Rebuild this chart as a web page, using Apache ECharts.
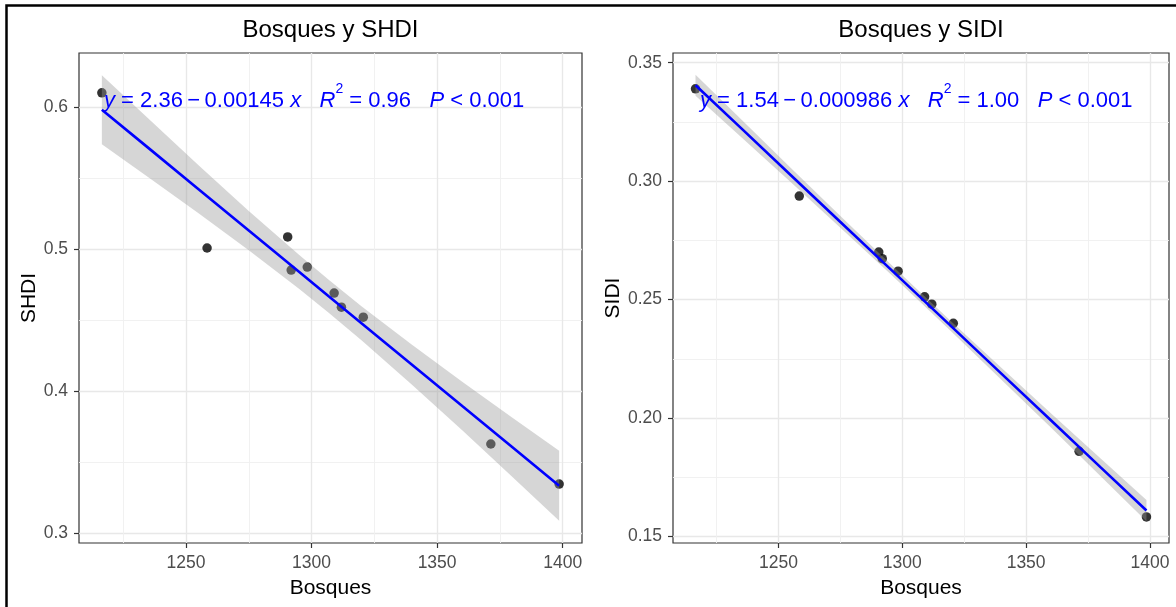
<!DOCTYPE html>
<html>
<head>
<meta charset="utf-8">
<script src="https://cdn.jsdelivr.net/npm/echarts@6/dist/echarts.min.js"></script>
<style>
  html, body { margin: 0; padding: 0; background: #fff; }
  #chart { width: 1176px; height: 607px; }
</style>
</head>
<body>
<div id="chart"></div>
<script>
// valores
const bosques = [1216.5, 1258.4, 1290.5, 1291.9, 1298.3, 1309.0, 1311.9, 1320.6, 1371.4, 1398.6];
const shdi = [0.610, 0.5007, 0.5085, 0.4852, 0.4873, 0.469, 0.459, 0.452, 0.3627, 0.3345];
const sidi = [0.339, 0.2937, 0.2701, 0.2673, 0.262, 0.2512, 0.2481, 0.240, 0.186, 0.1583];

// recta ajustada y banda de confianza
const fitX = [1216.5, 1235, 1255, 1275, 1295, 1306.7, 1320, 1340, 1360, 1380, 1398.6];
const shdiFit = [0.5981, 0.5712, 0.5421, 0.5130, 0.4840, 0.4669, 0.4476, 0.4185, 0.3894, 0.3604, 0.3333];
const shdiLo = [0.5738, 0.5506, 0.5252, 0.4992, 0.4720, 0.4553, 0.4356, 0.4045, 0.3723, 0.3395, 0.3087];
const shdiHi = [0.6224, 0.5918, 0.5590, 0.5268, 0.4959, 0.4785, 0.4596, 0.4325, 0.4066, 0.3812, 0.3579];
const sidiFit = [0.3405, 0.3223, 0.3025, 0.2828, 0.2631, 0.2516, 0.2385, 0.2188, 0.1991, 0.1793, 0.1610];
const sidiLo = [0.3361, 0.3185, 0.2995, 0.2803, 0.2610, 0.2495, 0.2363, 0.2162, 0.1960, 0.1756, 0.1565];
const sidiHi = [0.3449, 0.3260, 0.3056, 0.2853, 0.2653, 0.2537, 0.2406, 0.2213, 0.2021, 0.1831, 0.1655];

// marcas de los ejes
const xTicks = [1250, 1300, 1350, 1400];
const xMinor = [1225, 1275, 1325, 1375];
const shdiTicks = [0.3, 0.4, 0.5, 0.6];
const shdiMinor = [0.35, 0.45, 0.55];
const sidiTicks = [0.15, 0.20, 0.25, 0.30, 0.35];
const sidiMinor = [0.175, 0.225, 0.275, 0.325];

const font = '"Liberation Sans", Arial, sans-serif';
const chart = echarts.init(document.getElementById('chart'));

// eje principal (etiquetas, marcas y rejilla mayor)
function mainAxis(grid, min, max, ticks, name, gap, fmt) {
  return {
    type: 'value', gridIndex: grid, min: min, max: max,
    name: name, nameLocation: 'middle', nameGap: gap,
    nameTextStyle: { color: '#000', fontSize: 21, fontFamily: font },
    axisLine: { show: false },
    axisTick: { show: true, length: 5, customValues: ticks, lineStyle: { color: '#333', width: 1.2 } },
    axisLabel: { customValues: ticks, color: '#4d4d4d', fontSize: 17.5, fontFamily: font, margin: 11, formatter: fmt },
    splitLine: { show: true, lineStyle: { color: '#e8e8e8', width: 1.4 } }
  };
}
// eje auxiliar solo para la rejilla menor
function minorAxis(grid, min, max, ticks) {
  return {
    type: 'value', gridIndex: grid, min: min, max: max,
    axisLine: { show: false },
    axisTick: { show: false, customValues: ticks },
    axisLabel: { show: false, customValues: ticks },
    splitLine: { show: true, lineStyle: { color: '#efefef', width: 0.9 } }
  };
}

function ribbon(xi, yi, lo, hi) {
  return {
    type: 'custom', xAxisIndex: xi, yAxisIndex: yi, z: 2, silent: true,
    data: [[fitX[0], hi[0]]],
    renderItem: function (params, api) {
      const pts = [];
      for (let i = 0; i < fitX.length; i++) pts.push(api.coord([fitX[i], hi[i]]));
      for (let i = fitX.length - 1; i >= 0; i--) pts.push(api.coord([fitX[i], lo[i]]));
      return { type: 'polygon', shape: { points: pts }, style: { fill: 'rgba(153,153,153,0.4)' } };
    }
  };
}

function pairs(xs, ys) { return xs.map((x, i) => [x, ys[i]]); }

function eqText(x, text) {
  return {
    type: 'text', x: x, y: 97, z: 10,
    style: {
      text: text, verticalAlign: 'middle', fill: '#0000ff', fontSize: 22, fontFamily: font,
      rich: {
        n: { fontSize: 22, fontFamily: font, fill: '#0000ff', lineHeight: 30, verticalAlign: 'bottom' },
        i: { fontSize: 22, fontFamily: font, fill: '#0000ff', fontStyle: 'italic', lineHeight: 30, verticalAlign: 'bottom' },
        s: { fontSize: 14, fontFamily: font, fill: '#0000ff', lineHeight: 30, verticalAlign: 'top' }
      }
    }
  };
}

const xMin = 1207.4, xMax = 1407.7;
const sep = '\u2009\u2212\u2009';

chart.setOption({
  backgroundColor: '#fff',
  animation: false,
  grid: [
    { left: 79, top: 53, width: 503, height: 490, show: true, borderColor: '#333', borderWidth: 1.2 },
    { left: 673, top: 53, width: 496, height: 490, show: true, borderColor: '#333', borderWidth: 1.2 }
  ],
  xAxis: [
    mainAxis(0, xMin, xMax, xTicks, 'Bosques', 35, v => String(v)),
    minorAxis(0, xMin, xMax, xMinor),
    mainAxis(1, xMin, xMax, xTicks, 'Bosques', 35, v => String(v)),
    minorAxis(1, xMin, xMax, xMinor)
  ],
  yAxis: [
    mainAxis(0, 0.293, 0.638, shdiTicks, 'SHDI', 39, v => v.toFixed(1)),
    minorAxis(0, 0.293, 0.638, shdiMinor),
    mainAxis(1, 0.1473, 0.3541, sidiTicks, 'SIDI', 44, v => v.toFixed(2)),
    minorAxis(1, 0.1473, 0.3541, sidiMinor)
  ],
  series: [
    { type: 'scatter', xAxisIndex: 0, yAxisIndex: 0, z: 1, symbolSize: 9.5, itemStyle: { color: '#000' }, data: pairs(bosques, shdi) },
    ribbon(0, 0, shdiLo, shdiHi),
    { type: 'line', xAxisIndex: 0, yAxisIndex: 0, z: 3, symbol: 'none', lineStyle: { color: '#0000ff', width: 2.6 }, data: pairs(fitX, shdiFit) },
    { type: 'scatter', xAxisIndex: 2, yAxisIndex: 2, z: 1, symbolSize: 9.5, itemStyle: { color: '#000' }, data: pairs(bosques, sidi) },
    ribbon(2, 2, sidiLo, sidiHi),
    { type: 'line', xAxisIndex: 2, yAxisIndex: 2, z: 3, symbol: 'none', lineStyle: { color: '#0000ff', width: 2.6 }, data: pairs(fitX, sidiFit) }
  ],
  graphic: [
    { type: 'rect', shape: { x: 6.5, y: 5.5, width: 1300, height: 800 }, style: { fill: 'none', stroke: '#000', lineWidth: 2.5 }, silent: true },
    { type: 'text', x: 330.5, y: 30, style: { text: 'Bosques y SHDI', align: 'center', verticalAlign: 'middle', fontSize: 24, fontFamily: font, fill: '#000' } },
    { type: 'text', x: 921, y: 30, style: { text: 'Bosques y SIDI', align: 'center', verticalAlign: 'middle', fontSize: 24, fontFamily: font, fill: '#000' } },
    eqText(104, '{i|y}{n| = 2.36' + sep + '0.00145 }{i|x}{n|   }{i|R}{s|2}{n| = 0.96   }{i|P}{n| < 0.001}'),
    eqText(700, '{i|y}{n| = 1.54' + sep + '0.000986 }{i|x}{n|   }{i|R}{s|2}{n| = 1.00   }{i|P}{n| < 0.001}')
  ]
});
</script>
</body>
</html>
